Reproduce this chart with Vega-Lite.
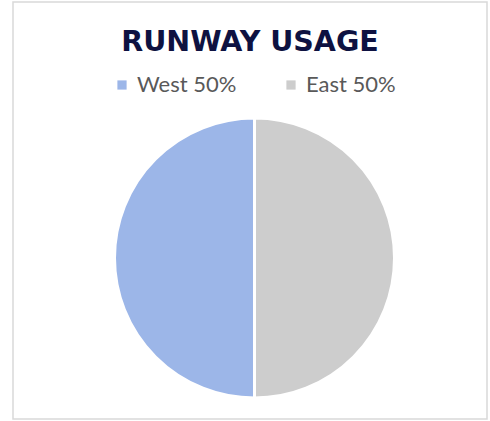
{
  "$schema": "https://vega.github.io/schema/vega-lite/v6.json",
  "width": 474,
  "height": 417,
  "autosize": "none",
  "padding": {"left": 13, "top": 2, "right": 3, "bottom": 2},
  "background": "white",
  "view": {"stroke": "#d9d9d9", "strokeWidth": 1.5},
  "title": {
    "text": "RUNWAY USAGE",
    "font": "DejaVu Sans",
    "fontSize": 28.5,
    "fontWeight": "bold",
    "color": "#0e1241",
    "anchor": "middle",
    "offset": 0,
    "baseline": "alphabetic",
    "dy": 77
  },
  "data": {"values": [
    {"runway": "West", "share": 50},
    {"runway": "East", "share": 50}
  ]},
  "mark": {
    "type": "arc",
    "radius": 140,
    "stroke": "white",
    "strokeWidth": 3,
    "x": {"expr": "width/2+4.5"},
    "y": {"expr": "height/2+47.5"}
  },
  "encoding": {
    "theta": {"field": "share", "type": "quantitative", "stack": true},
    "order": {"field": "runway", "sort": "ascending"},
    "color": {
      "field": "runway",
      "type": "nominal",
      "scale": {"domain": ["West", "East"], "range": ["#9cb6e8", "#cdcdcd"]},
      "legend": {
        "title": null,
        "orient": "none",
        "legendX": 98,
        "legendY": 72,
        "direction": "horizontal",
        "labelExpr": "datum.label + ' 50%'",
        "labelFont": "Lato",
        "labelFontSize": 22,
        "labelColor": "#595959",
        "labelOffset": 4,
        "symbolType": "square",
        "symbolSize": 85,
        "symbolStrokeWidth": 0,
        "columnPadding": 43
      }
    }
  }
}
